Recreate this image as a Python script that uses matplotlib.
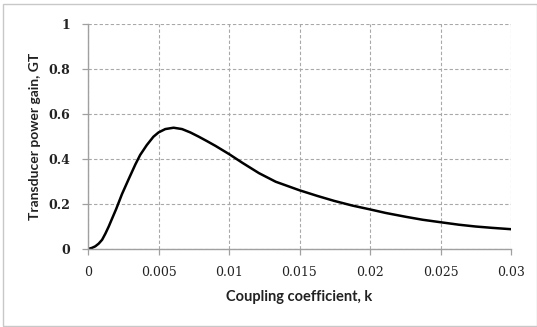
import matplotlib
matplotlib.use("Agg")
import matplotlib.pyplot as plt
from matplotlib.patches import Rectangle

# Data
k_values = [0.0, 0.00028, 0.00052, 0.00076, 0.001, 0.00123, 0.00147, 0.0017,
            0.002, 0.00241, 0.00288, 0.00336, 0.0037, 0.00417, 0.00464, 0.005,
            0.00548, 0.00607, 0.00667, 0.00726, 0.00786, 0.00845, 0.00905,
            0.01, 0.01095, 0.01213, 0.01331, 0.015, 0.01626, 0.01745, 0.01875,
            0.02, 0.02113, 0.02255, 0.02373, 0.025, 0.0263, 0.02748, 0.02866,
            0.03]
gt_values = [0.0, 0.005, 0.012, 0.024, 0.041, 0.068, 0.1, 0.134,
             0.178, 0.244, 0.31, 0.376, 0.418, 0.462, 0.499, 0.518,
             0.533, 0.539, 0.533, 0.518, 0.499, 0.479, 0.458,
             0.422, 0.383, 0.337, 0.299, 0.261, 0.236, 0.214, 0.193,
             0.176, 0.16, 0.143, 0.13, 0.119, 0.108, 0.1, 0.094,
             0.088]
x_ticks = [0, 0.005, 0.01, 0.015, 0.02, 0.025, 0.03]
x_tick_labels = ["0", "0.005", "0.01", "0.015", "0.02", "0.025", "0.03"]
y_ticks = [0, 0.2, 0.4, 0.6, 0.8, 1]
y_tick_labels = ["0", "0.2", "0.4", "0.6", "0.8", "1"]
x_label = "Coupling coefficient, k"
y_label = "Transducer power gain, GT"

W, H = 537, 327
fig = plt.figure(figsize=(W / 100, H / 100), dpi=100)
fig.patch.set_facecolor("white")

# axes: left 88, right 511, top 24, bottom 249 (pixels)
ax = fig.add_axes([88 / W, 1 - 249 / H, (511 - 88) / W, (249 - 24) / H])

ax.plot(k_values, gt_values, color="black", lw=1.8,
        solid_capstyle="round", solid_joinstyle="round")

ax.set_xlim(0, 0.03)
ax.set_ylim(0, 1)
ax.set_xticks(x_ticks)
ax.set_xticklabels(x_tick_labels, fontfamily="DejaVu Serif", fontsize=9)
ax.set_yticks(y_ticks)
ax.set_yticklabels(y_tick_labels, fontfamily="DejaVu Serif", fontsize=9,
                   fontweight="bold")

ax.grid(True, color="#a8a8a8", linestyle=(0, (3, 2)), linewidth=0.8)
ax.set_axisbelow(True)
for s in ["top", "right"]:
    ax.spines[s].set_visible(False)
for s in ["left", "bottom"]:
    ax.spines[s].set_color("#a0a0a0")
    ax.spines[s].set_linewidth(1.0)
ax.tick_params(axis="both", direction="out", length=4, width=0.9, color="#a0a0a0",
               labelcolor="#222222")
ax.tick_params(axis="x", pad=8)
ax.tick_params(axis="y", pad=9)

ax.set_xlabel(x_label, fontfamily="Lato", fontweight="bold", fontsize=10.5,
              color="#222222", labelpad=8)
ax.set_ylabel(y_label, fontfamily="Lato", fontweight="bold", fontsize=10,
              color="#222222", labelpad=5)

# outer border
fig.patches.append(Rectangle((3 / W, 1 / H), (W - 3) / W, (H - 5) / H,
                             transform=fig.transFigure, fill=False,
                             edgecolor="#c8c8c8", linewidth=1.0))

fig.savefig("out.png", dpi=100)
